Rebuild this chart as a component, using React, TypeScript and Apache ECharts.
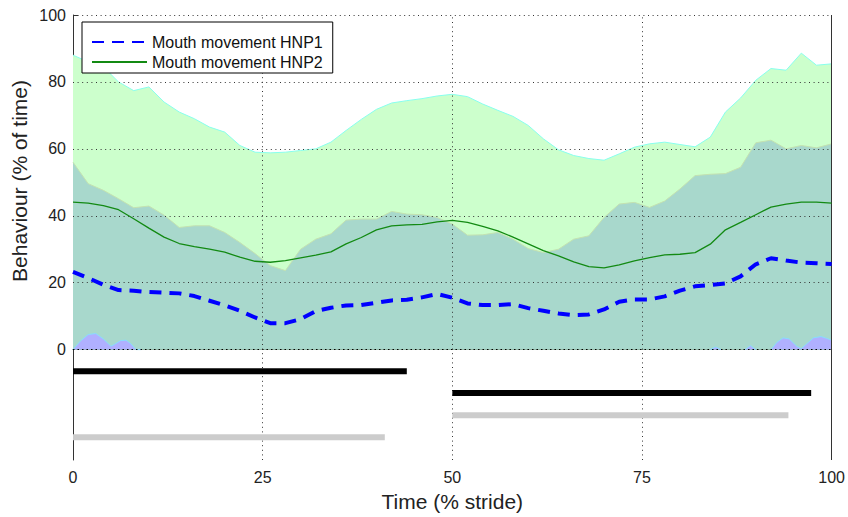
import React, { useEffect, useRef } from "react";
import * as echarts from "echarts";

// x positions (% stride)
const STRIDE = [0, 2, 4, 6, 8, 10, 12, 14, 16, 18, 20, 22, 24, 26, 28, 30, 32, 34, 36, 38, 40, 42, 44, 46, 48, 50,
  52, 54, 56, 58, 60, 62, 64, 66, 68, 70, 72, 74, 76, 78, 80, 82, 84, 86, 88, 90, 92, 94, 96, 98, 100];

// upper edge of the light green band
const BAND_UPPER = [88, 86, 84.5, 80, 77.4, 78.5, 74, 71, 69, 66.5, 65, 61, 59, 58.8, 59, 59.5, 60,
  62, 65.5, 68.8, 71.8, 73.7, 74.4, 75, 75.8, 76.3, 75.6, 73.4, 71.5, 69.7, 67, 63, 59.7, 58,
  57.1, 56.6, 58.5, 60.5, 61.5, 62, 61.3, 60.6, 63.5, 71, 75.2, 80.5, 84, 83.5, 88.6, 85, 85.4];

// upper edge of the teal band
const BAND_LOWER = [56, 49.6, 47.6, 45.1, 42.4, 42.9, 40.2, 36.5, 37, 37, 35, 32, 28.7, 25.1, 23.6, 30, 33,
  34.6, 38.7, 39, 39, 41.3, 40.5, 40.3, 39.5, 37.5, 34.2, 34.3, 35, 33, 30.2, 29, 30, 33,
  34, 39.5, 43.5, 44, 42.5, 44.4, 48, 52, 52.4, 52.6, 54.5, 61.8, 62.6, 60, 61, 60.3, 61.5];

// Mouth movement HNP1 (mean)
const HNP1 = [23.2, 21.4, 19.4, 17.8, 17.6, 17.2, 17, 16.8, 16, 14.6, 13.2, 11.6, 9.6, 7.9, 7.9, 9.1, 11.5,
  12.5, 13.2, 13.3, 14, 14.7, 14.9, 15.6, 16.6, 15.5, 13.8, 13.3, 13.3, 13.6, 12.4, 11.6, 10.8, 10.3,
  10.5, 12, 14.3, 15, 15, 15.9, 17.6, 18.9, 19.3, 19.8, 21.9, 25.5, 27.3, 26.6, 26, 25.8, 25.6];

// Mouth movement HNP2 (mean)
const HNP2 = [44.1, 43.8, 43, 41.8, 39.1, 36.3, 33.6, 31.7, 30.8, 30, 29.1, 27.6, 26.4, 26.1, 26.6, 27.4, 28.2,
  29.2, 31.6, 33.5, 35.8, 37, 37.3, 37.4, 38.2, 38.6, 38, 36.8, 35.5, 33.6, 31.6, 29.6, 28, 26.2,
  24.8, 24.4, 25.3, 26.5, 27.5, 28.3, 28.5, 29, 31.5, 35.8, 38, 40.3, 42.6, 43.5, 44.1, 44.1, 43.8];

// small lavender band near zero (null separates pieces)
const BUMP_X = [0, 1, 2, 3, 4, 5, 5.5, 6.3, 7, 7.6, 8.3, 9, null,
  84, 84.7, 85.4, null, 88.6, 89.3, 90, null,
  92, 92.8, 93.6, 94.4, 95.4, 96, 96.6, 97.6, 98.6, 99.3, 100];
const BUMP_Y = [0, 2.6, 4.5, 4.8, 3.2, 1, 1.6, 2.7, 2.8, 1.8, 0, 0, null,
  0, 0.8, 0, null, 0, 1.2, 0, null,
  0, 2.2, 3.5, 3.2, 1, 0.3, 1.5, 3.5, 3.9, 3.4, 2.8];

// horizontal phase bars in the lower panel
const BAR_START = [0, 0, 50, 50];
const BAR_END = [44, 41.1, 97.3, 94.3];
const BAR_LEVEL = [-6.5, -26.2, -13, -19.6];
const BAR_KIND = ["black", "gray", "black", "gray"];

const Y_TICKS = [0, 20, 40, 60, 80, 100];
const H_GRID = [20, 40, 60, 80, 100];
const V_GRID = [25, 50, 75];

const FONT = "Liberation Sans, Arial, sans-serif";

export default function App() {
  const ref = useRef<HTMLDivElement>(null);

  useEffect(() => {
    if (!ref.current) return;
    const chart = echarts.init(ref.current, null, { renderer: "svg" });

    const pairs = (ys: number[]) => STRIDE.map((x, i) => [x, ys[i]]);
    const bumps = BUMP_X.map((x, i) => (x === null ? [null, null] : [x, BUMP_Y[i]]));

    const dotted = { color: "#333", width: 1, type: [1, 3.6] as any };

    const barSeries = BAR_START.map((s, i) => ({
      type: "line",
      name: "bar" + i,
      data: [[s, BAR_LEVEL[i]], [BAR_END[i], BAR_LEVEL[i]]],
      symbol: "none",
      z: 6,
      silent: true,
      lineStyle: {
        color: BAR_KIND[i] === "black" ? "#000" : "#cccccc",
        width: 6,
        cap: "butt",
      },
    }));

    const option: any = {
      animation: false,
      backgroundColor: "#fff",
      grid: { left: 73, top: 15, right: 11, bottom: 55 },
      xAxis: {
        type: "value",
        min: 0,
        max: 100,
        interval: 25,
        axisLine: { show: true, lineStyle: { color: "#333", width: 1 } },
        axisTick: { show: true, inside: true, length: 5, lineStyle: { color: "#333" } },
        axisLabel: { fontSize: 16, color: "#222", margin: 9, fontFamily: FONT },
        splitLine: { show: false },
        name: "Time (% stride)",
        nameLocation: "middle",
        nameGap: 31,
        nameTextStyle: { fontSize: 21, color: "#222", fontFamily: FONT },
      },
      yAxis: {
        type: "value",
        min: -33,
        max: 100,
        axisLine: { show: true, lineStyle: { color: "#333", width: 1 } },
        axisTick: { show: true, inside: true, length: 5, customValues: Y_TICKS, lineStyle: { color: "#333" } },
        axisLabel: { customValues: Y_TICKS, fontSize: 16, color: "#222", margin: 7, fontFamily: FONT },
        splitLine: { show: false },
      },
      legend: {
        data: ["Mouth movement HNP1", "Mouth movement HNP2"],
        orient: "vertical",
        left: 82,
        top: 22,
        itemWidth: 55,
        itemHeight: 14,
        itemGap: 4,
        padding: [12, 10, 3, 9],
        borderColor: "#000",
        borderWidth: 1,
        borderRadius: 0,
        backgroundColor: "#fff",
        itemStyle: { opacity: 0 },
        textStyle: { fontSize: 16, color: "#111", fontFamily: FONT },
        z: 10,
        selectedMode: false,
      },
      graphic: [
        {
          type: "text",
          x: 19,
          y: 181,
          rotation: Math.PI / 2,
          style: {
            text: "Behaviour (% of time)",
            fontSize: 21,
            fontFamily: FONT,
            fill: "#222",
            align: "center",
            verticalAlign: "middle",
          },
        },
      ],
      series: [
        {
          type: "line",
          name: "upper band",
          data: pairs(BAND_UPPER),
          symbol: "none",
          z: 2,
          silent: true,
          lineStyle: { color: "#88ffee", width: 1 },
          areaStyle: { color: "#ccffcc", opacity: 1 },
        },
        {
          type: "line",
          name: "lower band",
          data: pairs(BAND_LOWER),
          symbol: "none",
          z: 2,
          silent: true,
          lineStyle: { color: "#c4e2b0", width: 1 },
          areaStyle: { color: "#a8d8cc", opacity: 1 },
        },
        {
          type: "line",
          name: "near zero",
          data: bumps,
          symbol: "none",
          z: 3,
          silent: true,
          connectNulls: false,
          lineStyle: { color: "#88ddff", width: 1 },
          areaStyle: { color: "#b0b0ff", opacity: 1 },
          markLine: {
            silent: true,
            symbol: "none",
            label: { show: false },
            z: 5,
            data: [
              ...H_GRID.map((v) => ({ yAxis: v, lineStyle: dotted })),
              { yAxis: 0, lineStyle: { color: "#000", width: 1.2, type: [1.5, 3] } },
              ...V_GRID.map((v) => ({ xAxis: v, lineStyle: dotted })),
              { xAxis: 100, lineStyle: { color: "#333", width: 1, type: "solid" } },
            ],
          },
        },
        {
          type: "line",
          name: "Mouth movement HNP2",
          data: pairs(HNP2),
          symbol: "none",
          z: 6,
          silent: true,
          color: "#138a13",
          lineStyle: { color: "#138a13", width: 1.3 },
        },
        {
          type: "line",
          name: "Mouth movement HNP1",
          data: pairs(HNP1),
          symbol: "none",
          z: 6,
          silent: true,
          color: "#0000ff",
          lineStyle: { color: "#0000ff", width: 4, type: [12, 8], cap: "butt" },
        },
        ...barSeries,
      ],
    };

    chart.setOption(option);
    return () => chart.dispose();
  }, []);

  return (
    <div
      ref={ref}
      style={{ position: "fixed", left: 0, top: 0, width: 848, height: 517, background: "#fff" }}
    />
  );
}
